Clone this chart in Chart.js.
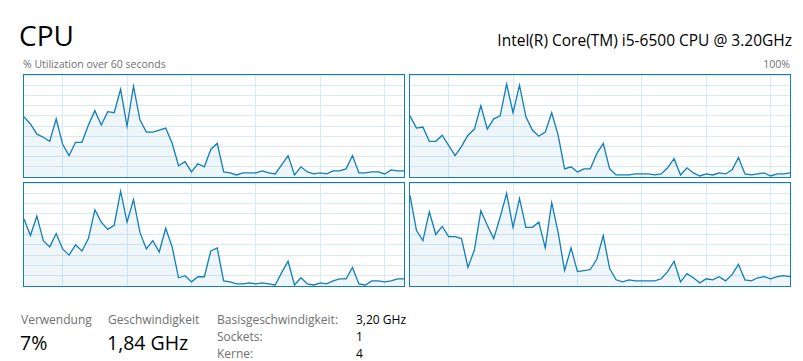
<!DOCTYPE html>
<html>
<head>
<meta charset="utf-8">
<script src="https://cdn.jsdelivr.net/npm/chart.js@4.4.1/dist/chart.umd.min.js"></script>
<style>
body { margin: 0; background: #fff; width: 803px; height: 361px; overflow: hidden; position: relative; font-family: "Open Sans", sans-serif; }
.t { position: absolute; white-space: nowrap; line-height: 1; }
.panel { position: absolute; box-sizing: border-box; border: 1px solid #117DBB; width: 382px; height: 104px; }
.panel canvas { display: block; }
.grau { color: #707070; }
</style>
</head>
<body>

<div class="t" style="left:19px; top:21px; font-size:28px; color:#000;">CPU</div>
<div class="t" style="right:11px; top:33px; font-size:15.5px; color:#000;">Intel(R) Core(TM) i5-6500 CPU @ 3.20GHz</div>
<div class="t grau" style="left:23px; top:59px; font-size:10.5px;">% Utilization over 60 seconds</div>
<div class="t grau" style="right:13px; top:59px; font-size:10.5px;">100%</div>

<div class="panel" style="left:23px; top:74px;"><canvas id="cpu0" width="380" height="102"></canvas></div>
<div class="panel" style="left:409px; top:74px;"><canvas id="cpu1" width="380" height="102"></canvas></div>
<div class="panel" style="left:23px; top:182px; height:105px;"><canvas id="cpu2" width="380" height="103"></canvas></div>
<div class="panel" style="left:409px; top:182px; height:105px;"><canvas id="cpu3" width="380" height="103"></canvas></div>

<div class="t grau" style="left:21px; top:314px; font-size:12px;">Verwendung</div>
<div class="t" style="left:20px; top:333px; font-size:19.5px; color:#000;">7%</div>
<div class="t grau" style="left:108px; top:314px; font-size:12px;">Geschwindigkeit</div>
<div class="t" style="left:107px; top:333px; font-size:19.5px; color:#000;">1,84 GHz</div>
<div class="t grau" style="left:217px; top:314px; font-size:12px;">Basisgeschwindigkeit:</div>
<div class="t" style="left:356px; top:314px; font-size:12px; color:#000;">3,20 GHz</div>
<div class="t grau" style="left:217px; top:331px; font-size:12px;">Sockets:</div>
<div class="t" style="left:356px; top:331px; font-size:12px; color:#000;">1</div>
<div class="t grau" style="left:217px; top:348px; font-size:12px;">Kerne:</div>
<div class="t" style="left:356px; top:348px; font-size:12px; color:#000;">4</div>

<script>
// Auslastung je logischem Prozessor, 60 Sekunden (%)
const cpu0 = [59,52,42,39,35,57,32,21,34,34,51,65,51,64,63,86,50,89,56,44,44,46,48,33,11,15,5,13,10,27,33,5,4,2,4,4,4,6,4,3,12,21,2,10,5,3,4,3,6,6,8,21,4,4,5,5,3,7,6,6];
const cpu1 = [60,48,49,35,35,41,31,21,30,41,47,70,47,57,60,91,63,90,59,46,40,44,63,41,8,10,5,8,8,23,33,8,2,2,2,3,3,3,2,3,9,18,2,9,4,1,3,2,4,3,7,19,3,2,3,4,1,3,3,4];
const cpu2 = [65,49,68,44,38,51,36,30,40,34,46,74,62,55,59,92,62,84,52,36,44,33,56,38,8,10,4,9,9,34,37,5,4,2,2,3,2,3,2,1,13,24,1,8,2,1,3,2,5,7,7,18,2,1,5,5,4,5,7,7];
const cpu3 = [88,54,44,72,50,58,48,48,46,18,35,73,59,46,67,90,57,85,57,57,62,37,81,52,15,37,14,15,16,26,49,17,6,4,6,5,5,5,5,7,14,24,4,12,8,3,7,6,9,5,11,21,6,5,8,9,7,9,10,9];

// vertikale Gitterlinien (Sekunden-Index)
const gitterX = [6,16,26,36,46,56];

const linie = "#117DBB";
const gitter = "#D9EAF4";

function zeichneKern(id, werte) {

    new Chart(document.getElementById(id), {

        type: "line",

        data: {
            datasets: [{
                data: werte.map((v, i) => ({ x: i, y: v })),
                borderColor: linie,
                borderWidth: 1.3,
                backgroundColor: "rgba(17,125,187,0.07)",
                fill: "origin",
                pointRadius: 0,
                tension: 0
            }]
        },

        options: {
            responsive: false,
            animation: false,
            layout: { padding: 0 },
            plugins: {
                legend: { display: false },
                tooltip: { enabled: false }
            },
            scales: {
                x: {
                    type: "linear",
                    min: 0,
                    max: 59,
                    afterBuildTicks: scale => {
                        scale.ticks = gitterX.map(v => ({ value: v }));
                    },
                    ticks: { display: false },
                    grid: { color: gitter, drawTicks: false, lineWidth: 1 },
                    border: { display: false }
                },
                y: {
                    min: 0,
                    max: 100,
                    ticks: { display: false, stepSize: 10 },
                    grid: { color: gitter, drawTicks: false, lineWidth: 1 },
                    border: { display: false }
                }
            }
        }

    });

}

zeichneKern("cpu0", cpu0);
zeichneKern("cpu1", cpu1);
zeichneKern("cpu2", cpu2);
zeichneKern("cpu3", cpu3);
</script>
</body>
</html>
